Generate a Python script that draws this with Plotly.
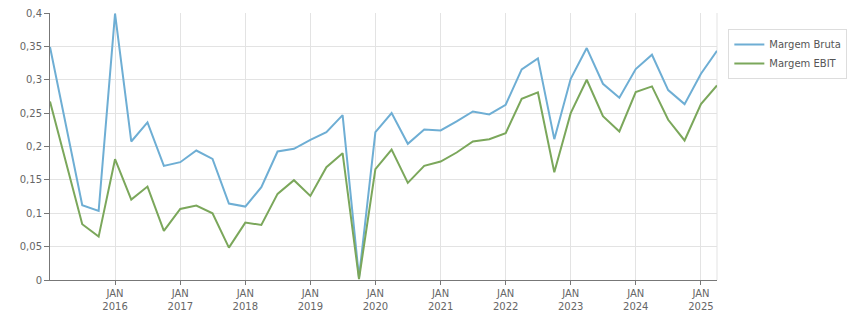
import plotly.graph_objects as go
import pandas as pd

dates = pd.date_range("2015-01-01", "2025-04-01", freq="QS").strftime("%Y-%m-%d").tolist()

margem_bruta = [
    0.349, 0.230, 0.112, 0.1035, 0.399, 0.2075, 0.236, 0.171, 0.1765, 0.194, 0.1815,
    0.1145, 0.110, 0.139, 0.1925, 0.1965, 0.210, 0.2215, 0.247, 0.004,
    0.2215, 0.250, 0.204, 0.2255, 0.224, 0.2375, 0.2525, 0.248, 0.2625, 0.3155, 0.332, 0.211,
    0.3015, 0.3475, 0.294, 0.273, 0.316, 0.3375, 0.2845, 0.2635, 0.309, 0.3435,
]
margem_ebit = [
    0.2675, 0.174, 0.0835, 0.065, 0.181, 0.1205, 0.140, 0.0735, 0.1065, 0.1115, 0.100,
    0.0485, 0.086, 0.0825, 0.129, 0.1495, 0.126, 0.169, 0.190, 0.0015,
    0.166, 0.1955, 0.1455, 0.171, 0.1775, 0.191, 0.2075, 0.211, 0.220, 0.2715, 0.281, 0.1615,
    0.250, 0.300, 0.2455, 0.2225, 0.2815, 0.290, 0.240, 0.209, 0.2635, 0.2915,
]

tick_years = list(range(2016, 2026))
tick_vals = [f"{y}-01-01" for y in tick_years]
tick_text = [f"JAN<br>{y}" for y in tick_years]

fig = go.Figure()
fig.add_trace(go.Scatter(x=dates, y=margem_bruta, mode="lines", name="Margem Bruta",
                         line=dict(color="#6eaed4", width=2)))
fig.add_trace(go.Scatter(x=dates, y=margem_ebit, mode="lines", name="Margem EBIT",
                         line=dict(color="#7ba75b", width=2)))

fig.update_layout(
    width=851, height=313,
    margin=dict(l=50, r=134, t=13, b=33, autoexpand=False),
    paper_bgcolor="white", plot_bgcolor="white",
    separators=",.",
    font=dict(family="DejaVu Sans", size=10, color="#666666"),
    legend=dict(x=1.017, y=0.94, xanchor="left", yanchor="top",
                bordercolor="#dddddd", borderwidth=1,
                font=dict(size=10, color="#555555"),
                itemwidth=30, tracegroupgap=0),
    showlegend=True,
)
fig.update_xaxes(
    range=[dates[0], dates[-1]],
    tickvals=tick_vals, ticktext=tick_text,
    showgrid=True, gridcolor="#e3e3e3", gridwidth=1,
    showline=True, linecolor="#777777", linewidth=1,
    ticks="outside", ticklen=4, tickcolor="#777777",
    zeroline=False, automargin=False,
)
fig.update_yaxes(
    range=[0, 0.4], dtick=0.05, tick0=0,
    showgrid=True, gridcolor="#e3e3e3", gridwidth=1,
    showline=True, linecolor="#777777", linewidth=1,
    ticks="outside", ticklen=5, tickcolor="#777777",
    zeroline=False, automargin=False,
)
fig.add_shape(type="line", xref="paper", yref="paper", x0=1, x1=1, y0=0, y1=1,
              line=dict(color="#e3e3e3", width=1), layer="below")

fig.write_html("out.html")
